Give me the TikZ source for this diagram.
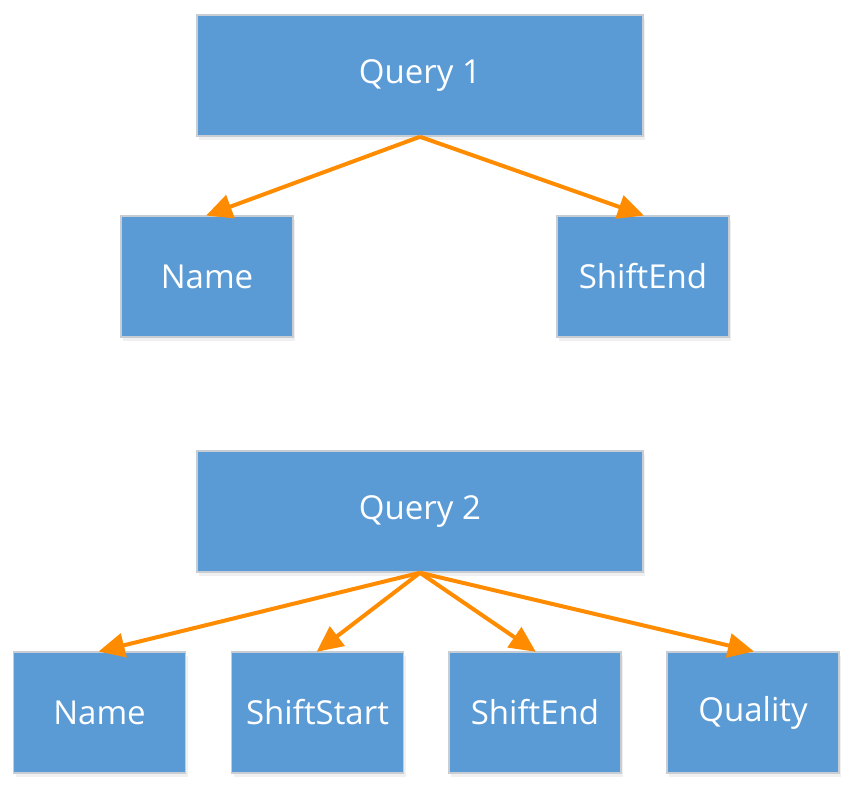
\documentclass[tikz,border=0pt]{standalone}
\usepackage{fontspec}
\setmainfont{Open Sans}
\usetikzlibrary{arrows.meta,shadows}
\definecolor{boxblue}{HTML}{5B9BD5}
\definecolor{boxedge}{HTML}{C8CDD4}
\definecolor{arrorange}{HTML}{FF8C00}
\begin{document}
\begin{tikzpicture}[x=1pt,y=-1pt,
  box/.style={draw=boxedge, line width=1.5pt, fill=boxblue, text=white,
    font=\fontsize{33}{38}\selectfont, inner sep=0pt,
    drop shadow={opacity=0.12, shadow xshift=2pt, shadow yshift=-4pt}},
  wide/.style={box, minimum width=446pt, minimum height=121pt},
  small/.style={box, minimum width=172pt, minimum height=121pt},
  link/.style={draw=arrorange, line width=4pt, -{Triangle[length=26pt,width=24pt]}, shorten >=-1pt}]
\useasboundingbox (0,0) rectangle (854,788);
\node[wide] (q1) at (420,75.5) {Query 1};
\node[small] (n1) at (207,276.5) {Name};
\node[small] (e1) at (643,276.5) {ShiftEnd};
\node[wide] (q2) at (420,511.5) {Query 2};
\node[small] (n2) at (99.5,712.5) {Name};
\node[small] (s2) at (317.5,712.5) {ShiftStart};
\node[small] (e2) at (535,712.5) {ShiftEnd};
\node[small] (u2) at (753,712.5) {Quality};
\draw[link] (q1.south) -- (n1.north);
\draw[link] (q1.south) -- (e1.north);
\draw[link] (q2.south) -- (n2.north);
\draw[link] (q2.south) -- (s2.north);
\draw[link] (q2.south) -- (e2.north);
\draw[link] (q2.south) -- (u2.north);
\end{tikzpicture}
\end{document}
